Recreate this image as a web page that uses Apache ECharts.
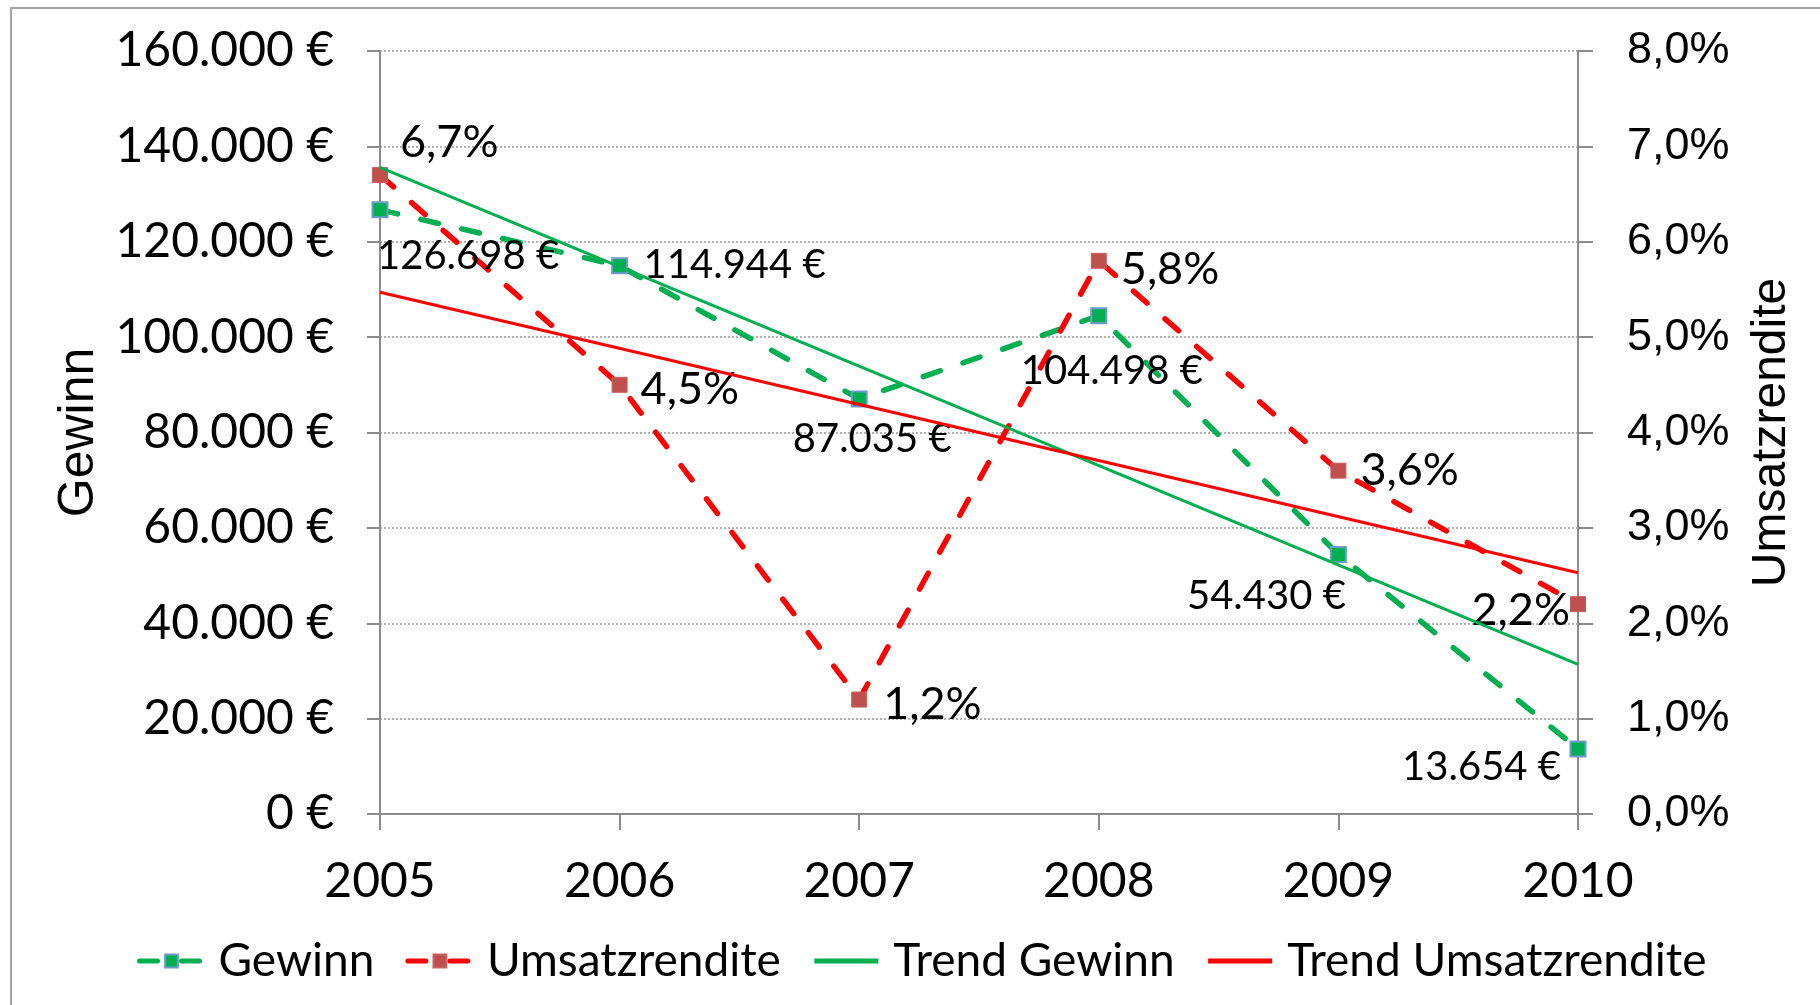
<!DOCTYPE html>
<html>
<head>
<meta charset="utf-8">
<title>Gewinn und Umsatzrendite 2005–2010</title>
<script src="https://cdn.jsdelivr.net/npm/echarts@6/dist/echarts.min.js"></script>
<style>
  html, body { margin: 0; padding: 0; background: #ffffff; }
  #chart { width: 1820px; height: 1005px; }
</style>
</head>
<body>
<div id="chart"></div>
<script>
// Jahre und Kennzahlen
const years = ['2005', '2006', '2007', '2008', '2009', '2010'];
const gewinn = [126698, 114944, 87035, 104498, 54430, 13654];
const umsatzrendite = [0.067, 0.045, 0.012, 0.058, 0.036, 0.022];
// lineare Trendlinien: Anfangs- und Endwert
const trendGewinn = [135600, null, null, null, null, 31400];
const trendUmsatzrendite = [0.0547, null, null, null, null, 0.0253];

// Achsenbereiche
const gewinnAxis = { min: 0, max: 160000, interval: 20000 };
const renditeAxis = { min: 0, max: 0.08, interval: 0.01 };

// Platzierung der Datenbeschriftungen relativ zum Marker
const gewinnLabelPlace = [
  { align: 'left', dx: -3, dy: 46 },
  { align: 'left', dx: 24, dy: -1 },
  { align: 'center', dx: 13, dy: 40 },
  { align: 'center', dx: 13, dy: 55 },
  { align: 'center', dx: -72, dy: 42 },
  { align: 'right', dx: -17, dy: 18 }
];
const renditeLabelPlace = [
  { align: 'left', dx: 20, dy: -33 },
  { align: 'left', dx: 21, dy: 5 },
  { align: 'left', dx: 24, dy: 5 },
  { align: 'left', dx: 22, dy: 9 },
  { align: 'left', dx: 22, dy: 0 },
  { align: 'right', dx: -8, dy: 6 }
];

const GREEN = '#00b050';
const RED = '#ff0000';
const AXIS_GREY = '#8c8c8c';
const FONT = 'Lato, "Noto Sans", sans-serif';
const FONT_ARIAL = '"Liberation Sans", Arial, sans-serif';

function euro(v) {
  return String(Math.round(v)).replace(/\B(?=(\d{3})+(?!\d))/g, '.') + ' €';
}
function prozent(v) {
  return (v * 100).toFixed(1).replace('.', ',') + '%';
}

function withLabels(values, places, fontSize) {
  return values.map(function (v, i) {
    const p = places[i];
    return {
      value: v,
      label: {
        show: true,
        position: 'inside',
        align: p.align,
        verticalAlign: 'middle',
        offset: [p.dx, p.dy],
        fontFamily: FONT,
        fontSize: fontSize,
        color: '#000'
      }
    };
  });
}

const axisLineStyle = { show: true, lineStyle: { color: AXIS_GREY, width: 2 } };
const axisTickStyle = { show: true, length: 15, lineStyle: { color: AXIS_GREY, width: 2 } };
const gridLineStyle = { show: true, lineStyle: { color: '#9a9a9a', width: 1.5, type: [2, 2] } };

const chart = echarts.init(document.getElementById('chart'), null, { renderer: 'canvas' });

chart.setOption({
  animation: false,
  backgroundColor: '#ffffff',
  graphic: [{
    type: 'rect',
    shape: { x: 11, y: 8, width: 3000, height: 3000 },
    style: { fill: 'none', stroke: '#a6a6a6', lineWidth: 2 },
    silent: true,
    z: -10
  }],
  grid: { left: 380, right: 242, top: 51, bottom: 191, containLabel: false },
  legend: {
    left: 132,
    top: 933,
    itemWidth: 64,
    itemHeight: 16,
    itemGap: 31,
    textStyle: { fontFamily: FONT, fontSize: 46, color: '#000', padding: [0, 0, 0, 10] },
    data: [
      { name: 'Gewinn', lineStyle: { width: 5 } },
      { name: 'Umsatzrendite', lineStyle: { width: 5 } },
      { name: 'Trend Gewinn', itemStyle: { opacity: 0 }, lineStyle: { width: 5 } },
      { name: 'Trend Umsatzrendite', itemStyle: { opacity: 0 }, lineStyle: { width: 5 } }
    ]
  },
  xAxis: {
    type: 'category',
    data: years,
    boundaryGap: false,
    axisLine: axisLineStyle,
    axisTick: { show: true, length: 16, alignWithLabel: true, lineStyle: { color: AXIS_GREY, width: 2 } },
    axisLabel: { fontFamily: FONT, fontSize: 48, color: '#000', margin: 44 },
    splitLine: { show: false }
  },
  yAxis: [{
    type: 'value',
    position: 'left',
    min: gewinnAxis.min,
    max: gewinnAxis.max,
    interval: gewinnAxis.interval,
    name: 'Gewinn',
    nameLocation: 'middle',
    nameRotate: 90,
    nameGap: 275,
    nameTextStyle: { fontFamily: FONT_ARIAL, fontSize: 50, color: '#000' },
    axisLine: axisLineStyle,
    axisTick: { show: true, length: 13, lineStyle: { color: AXIS_GREY, width: 2 } },
    axisLabel: { fontFamily: FONT, fontSize: 48, color: '#000', margin: 46, formatter: euro },
    splitLine: gridLineStyle
  }, {
    type: 'value',
    position: 'right',
    min: renditeAxis.min,
    max: renditeAxis.max,
    interval: renditeAxis.interval,
    name: 'Umsatzrendite',
    nameLocation: 'middle',
    nameRotate: 90,
    nameGap: 170,
    nameTextStyle: { fontFamily: FONT_ARIAL, fontSize: 48, color: '#000' },
    axisLine: axisLineStyle,
    axisTick: axisTickStyle,
    axisLabel: { fontFamily: FONT_ARIAL, fontSize: 45, color: '#000', margin: 49, formatter: prozent },
    splitLine: { show: false }
  }],
  series: [{
    name: 'Gewinn',
    type: 'line',
    yAxisIndex: 0,
    data: withLabels(gewinn, gewinnLabelPlace, 40),
    symbol: 'rect',
    symbolSize: 15,
    lineStyle: { color: GREEN, width: 5.5, type: [18, 24], cap: 'round' },
    itemStyle: { color: GREEN, borderColor: '#6f9ad0', borderWidth: 2 },
    label: { show: true, formatter: function (p) { return euro(p.value); } },
    z: 3
  }, {
    name: 'Umsatzrendite',
    type: 'line',
    yAxisIndex: 1,
    data: withLabels(umsatzrendite, renditeLabelPlace, 45),
    symbol: 'rect',
    symbolSize: 15,
    lineStyle: { color: RED, width: 5.5, type: [18, 24], cap: 'round' },
    itemStyle: { color: '#c0504d', borderColor: '#c8605d', borderWidth: 1 },
    label: { show: true, formatter: function (p) { return prozent(p.value); } },
    z: 3
  }, {
    name: 'Trend Gewinn',
    type: 'line',
    yAxisIndex: 0,
    data: trendGewinn,
    connectNulls: true,
    symbol: 'none',
    lineStyle: { color: GREEN, width: 3 },
    itemStyle: { color: GREEN },
    z: 4
  }, {
    name: 'Trend Umsatzrendite',
    type: 'line',
    yAxisIndex: 1,
    data: trendUmsatzrendite,
    connectNulls: true,
    symbol: 'none',
    lineStyle: { color: RED, width: 3 },
    itemStyle: { color: RED },
    z: 4
  }]
});
</script>
</body>
</html>
